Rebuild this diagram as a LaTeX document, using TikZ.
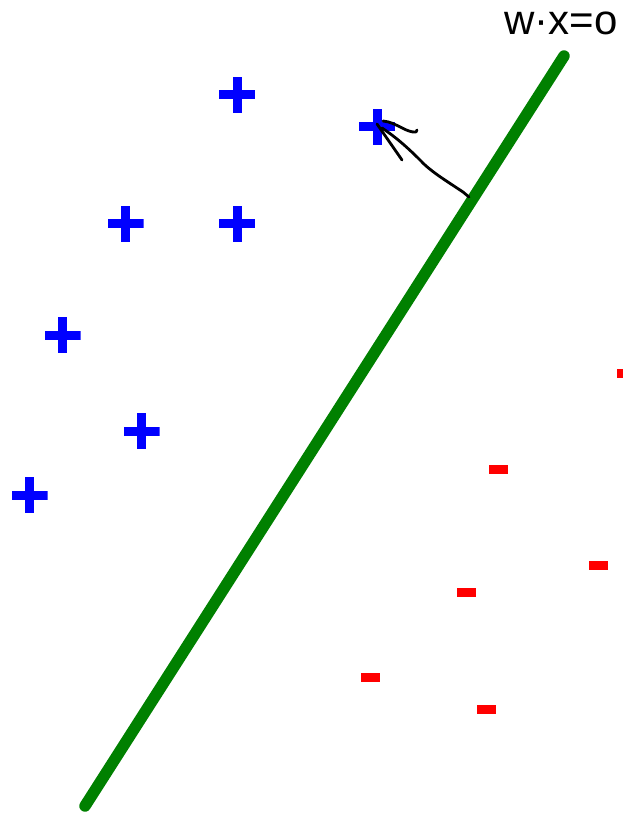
\documentclass[tikz,border=0pt]{standalone}
\usepackage{fontspec}
\setmainfont{Liberation Sans}
\usetikzlibrary{calc}
\definecolor{LineGreen}{RGB}{0,128,0}
\definecolor{PlusBlue}{RGB}{0,0,255}
\definecolor{MinusRed}{RGB}{255,0,0}

\begin{document}
\begin{tikzpicture}[x=1pt,y=-1pt,
  posmark/.style={minimum size=36pt,inner sep=0pt,
    path picture={\fill[PlusBlue]
      ([yshift=-4.5pt]path picture bounding box.west) rectangle
      ([yshift=4.5pt]path picture bounding box.east);
      \fill[PlusBlue]
      ([xshift=-4.5pt]path picture bounding box.south) rectangle
      ([xshift=4.5pt]path picture bounding box.north);}},
  negmark/.style={fill=MinusRed,minimum width=19pt,minimum height=9pt,inner sep=0pt},
  boundary/.style={draw=LineGreen,line width=11.5pt,line cap=round},
  pen/.style={line width=2.8pt,line cap=round,line join=round}]
  \useasboundingbox (0,0) rectangle (623,813);
  % separating line
  \coordinate (lo) at (85,806);
  \coordinate (hi) at (564,56);
  \draw[boundary] (lo) -- (hi);
  \node[anchor=base west,inner sep=0pt,font=\fontsize{42}{48}\selectfont] (eq) at (504,35) {w·x=o};
  % positive points
  \node[posmark] (p1) at (237,95) {};
  \node[posmark] (p2) at (377,127) {};
  \node[posmark] (p3) at (125.5,223.5) {};
  \node[posmark] (p4) at (237,223.5) {};
  \node[posmark] (p5) at (62.5,335) {};
  \node[posmark] (p6) at (141.5,431) {};
  \node[posmark] (p7) at (29.5,495) {};
  % negative points
  \node[negmark] (n1) at (626.5,373.5) {};
  \node[negmark] (n2) at (498.5,469.5) {};
  \node[negmark] (n3) at (598.5,565.5) {};
  \node[negmark] (n4) at (466.5,592.5) {};
  \node[negmark] (n5) at (370.5,677.5) {};
  \node[negmark] (n6) at (486.5,709.5) {};
  % sketched arrow
  \coordinate (foot) at (469,197);
  \coordinate (tip) at (382,128);
  \draw[pen] (foot) -- (463,192) .. controls (445,180) and (430,171) .. (420,160)
    .. controls (405,145) and (394,136) .. (tip);
  \draw[pen] ($(tip)+(-5,-4)$) -- ($(tip)+(20,32)$);
  \draw[pen] ($(tip)+(1,-7)$) .. controls ($(tip)+(14,-6)$) and ($(tip)+(24,5)$) .. ($(tip)+(34,4)$)
    -- ($(tip)+(35,2)$);
\end{tikzpicture}
\end{document}
